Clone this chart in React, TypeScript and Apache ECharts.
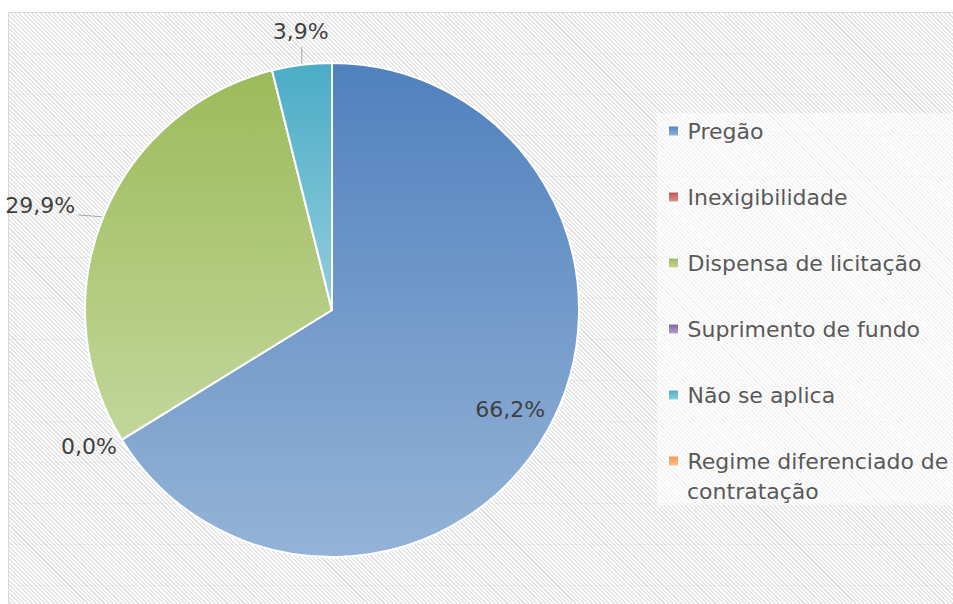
import React, { useEffect, useRef } from "react";
import * as echarts from "echarts";

const categories = [
  "Pregão",
  "Inexigibilidade",
  "Dispensa de licitação",
  "Suprimento de fundo",
  "Não se aplica",
  "Regime diferenciado de contratação",
];
// null = no value in the source (no label shown)
const values: (number | null)[] = [66.2, 0.0, 29.9, null, 3.9, null];
// legend text as wrapped in the source: first line / continuation line
const legendFirstLines = [
  "Pregão",
  "Inexigibilidade",
  "Dispensa de licitação",
  "Suprimento de fundo",
  "Não se aplica",
  "Regime diferenciado de",
];
const legendSecondLines = ["", "", "", "", "", "contratação"];
const topColors = ["#4f81bd", "#c0504d", "#9bbb59", "#8064a2", "#4bacc6", "#f79646"];
const bottomColors = ["#95b3d7", "#d99694", "#c3d69b", "#b3a2c7", "#93cddd", "#fac090"];

const CENTER = [332, 310];
const RADIUS = 247;
const FONT = "'DejaVu Sans', Verdana, sans-serif";
const LEGEND_LEFT = 668;
const LEGEND_TOP = 116;
const LEGEND_STEP = 66;

// label placement relative to the slice's edge point (mid-angle)
const labelTweaks: Record<number, any> = {
  0: { inside: 0.826 },
  1: { dx: -5, dy: 7, align: "right", line: null },
  2: { dx: -28, dy: -11, align: "right", line: [-25, -2] },
  4: { dx: -1, dy: -33, align: "center", line: [0, -18] },
};

const fmt = (v: number) => v.toFixed(1).replace(".", ",") + "%";

export default function App() {
  const ref = useRef<HTMLDivElement>(null);
  useEffect(() => {
    if (!ref.current) return;
    const chart = echarts.init(ref.current, undefined, { renderer: "svg" });
    const data = categories.map((name, i) => {
      const v = values[i];
      const t = labelTweaks[i];
      return {
        name,
        value: v == null ? 0 : v,
        itemStyle: {
          color: new echarts.graphic.LinearGradient(0, 0, 0, 1, [
            { offset: 0, color: topColors[i] },
            { offset: 1, color: bottomColors[i] },
          ]),
        },
        label: { show: v != null },
        labelLine: {
          show: v != null,
          lineStyle: { color: t && t.line ? "#a6a6a6" : "rgba(0,0,0,0)" },
        },
      };
    });
    const continuation = legendSecondLines
      .map((text, i) =>
        text
          ? {
              type: "text",
              x: LEGEND_LEFT + 19,
              y: LEGEND_TOP + 15 + LEGEND_STEP * i + 30,
              silent: true,
              style: {
                text,
                fontFamily: FONT,
                fontSize: 22,
                fill: "#595959",
                verticalAlign: "middle",
              },
            }
          : null
      )
      .filter(Boolean);
    chart.setOption({
      animation: false,
      backgroundColor: "transparent",
      legend: {
        orient: "vertical",
        left: LEGEND_LEFT,
        top: LEGEND_TOP,
        padding: 0,
        itemWidth: 10,
        itemHeight: 10,
        itemGap: LEGEND_STEP - 30,
        icon: "rect",
        itemStyle: { borderColor: "#ffffff", borderWidth: 1 },
        formatter: (name: string) => legendFirstLines[categories.indexOf(name)],
        textStyle: {
          fontFamily: FONT,
          fontSize: 22,
          color: "#595959",
          lineHeight: 30,
          padding: [0, 0, 0, 4],
        },
        data: categories,
      },
      graphic: continuation,
      series: [
        {
          type: "pie",
          center: CENTER,
          radius: [0, RADIUS],
          startAngle: 90,
          clockwise: true,
          avoidLabelOverlap: false,
          itemStyle: { borderColor: "#ffffff", borderWidth: 2 },
          emphasis: { disabled: true },
          label: {
            position: "outside",
            formatter: (p: any) => fmt(p.value),
            fontFamily: FONT,
            fontSize: 22,
            color: "#404040",
          },
          labelLine: { length: 10, length2: 10, lineStyle: { width: 1 } },
          labelLayout: (p: any) => {
            const pts = p.labelLinePoints;
            const t = labelTweaks[p.dataIndex];
            if (!pts || !t) return {};
            const [ex, ey] = pts[0];
            if (t.inside) {
              return {
                x: CENTER[0] + t.inside * (ex - CENTER[0]),
                y: CENTER[1] + t.inside * (ey - CENTER[1]),
                align: "center",
                verticalAlign: "middle",
                labelLinePoints: [
                  [ex, ey],
                  [ex, ey],
                ],
              };
            }
            return {
              x: ex + t.dx,
              y: ey + t.dy,
              align: t.align,
              verticalAlign: "middle",
              labelLinePoints: t.line
                ? [
                    [ex, ey],
                    [ex + t.line[0], ey + t.line[1]],
                  ]
                : [
                    [ex, ey],
                    [ex, ey],
                  ],
            };
          },
          data,
        },
      ],
    });
    return () => chart.dispose();
  }, []);

  return (
    <div style={{ position: "absolute", left: 0, top: 0, width: 953, height: 604, overflow: "hidden", background: "#ffffff" }}>
      <div
        style={{
          position: "absolute",
          left: 8,
          top: 12,
          width: 960,
          height: 600,
          borderTop: "1px solid #d9d9d9",
          borderLeft: "1px solid #d9d9d9",
          backgroundImage:
            "repeating-linear-gradient(180deg, rgba(255,255,255,0) 0px, rgba(255,255,255,0) 40px, rgba(0,0,0,0.035) 40px, rgba(0,0,0,0.035) 40.9px), repeating-linear-gradient(45deg, #ffffff 0px, #ffffff 1.5px, #e4e4e4 1.5px, #e4e4e4 3px)",
        }}
      />
      <div
        style={{
          position: "absolute",
          left: 657,
          top: 113,
          width: 310,
          height: 392,
          background: "rgba(255,255,255,0.55)",
        }}
      />
      <div ref={ref} style={{ position: "absolute", left: 0, top: 0, width: 953, height: 604 }} />
    </div>
  );
}
